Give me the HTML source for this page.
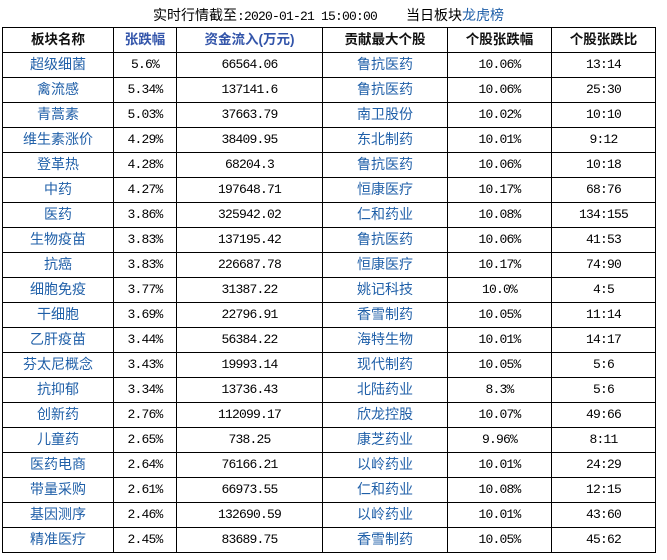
<!DOCTYPE html>
<html>
<head>
<meta charset="utf-8">
<style>
  html,body{margin:0;padding:0;background:#fff;}
  body{width:667px;height:560px;position:relative;overflow:hidden;font-family:"Liberation Sans","Noto Sans CJK SC",sans-serif;}
  .h{position:absolute;left:2px;width:654px;height:1px;background:#000;}
  .v{position:absolute;top:27px;width:1px;height:526px;background:#000;}
  .r{position:absolute;left:0;width:667px;height:25px;}
  .c{position:absolute;top:0;height:25px;line-height:25px;text-align:center;white-space:nowrap;}
  .c1{left:3px;width:110px;}
  .c2{left:114px;width:62px;}
  .c3{left:177px;width:145px;}
  .c4{left:323px;width:124px;}
  .c5{left:448px;width:103px;}
  .c6{left:552px;width:103px;}
  .cn{font-family:"Liberation Sans","Noto Sans CJK SC",sans-serif;font-size:14px;color:#1f5fa8;}
  .num{font-family:"Liberation Mono","DejaVu Sans Mono",monospace;font-size:13px;letter-spacing:-0.8px;color:#000;}
  .hd{font-family:"Liberation Sans","Noto Sans CJK SC",sans-serif;font-size:13.5px;font-weight:bold;color:#111;}
  .hb{color:#3355aa;}
  .title{position:absolute;top:6px;height:18px;line-height:18px;font-size:14px;color:#000;white-space:nowrap;}
  .mono{font-family:"Liberation Mono","DejaVu Sans Mono",monospace;font-size:13px;letter-spacing:-0.8px;}
</style>
</head>
<body>
<div class="title" style="left:153px;">实时行情截至<span class="mono">:2020-01-21 15:00:00</span></div>
<div class="title" style="left:406px;">当日板块<span style="color:#1f5fa8;">龙虎榜</span></div>

<div class="h" style="top:27px"></div>
<div class="h" style="top:52px"></div>
<div class="h" style="top:77px"></div>
<div class="h" style="top:102px"></div>
<div class="h" style="top:127px"></div>
<div class="h" style="top:152px"></div>
<div class="h" style="top:177px"></div>
<div class="h" style="top:202px"></div>
<div class="h" style="top:227px"></div>
<div class="h" style="top:252px"></div>
<div class="h" style="top:277px"></div>
<div class="h" style="top:302px"></div>
<div class="h" style="top:327px"></div>
<div class="h" style="top:352px"></div>
<div class="h" style="top:377px"></div>
<div class="h" style="top:402px"></div>
<div class="h" style="top:427px"></div>
<div class="h" style="top:452px"></div>
<div class="h" style="top:477px"></div>
<div class="h" style="top:502px"></div>
<div class="h" style="top:527px"></div>
<div class="h" style="top:552px"></div>
<div class="v" style="left:2px"></div>
<div class="v" style="left:113px"></div>
<div class="v" style="left:176px"></div>
<div class="v" style="left:322px"></div>
<div class="v" style="left:447px"></div>
<div class="v" style="left:551px"></div>
<div class="v" style="left:655px"></div>

<div class="r" style="top:27px">
  <div class="c c1 hd">板块名称</div>
  <div class="c c2 hd hb">张跌幅</div>
  <div class="c c3 hd hb">资金流入(万元)</div>
  <div class="c c4 hd">贡献最大个股</div>
  <div class="c c5 hd">个股张跌幅</div>
  <div class="c c6 hd">个股张跌比</div>
</div>

<div class="r" style="top:52px"><div class="c c1 cn">超级细菌</div><div class="c c2 num">5.6%</div><div class="c c3 num">66564.06</div><div class="c c4 cn">鲁抗医药</div><div class="c c5 num">10.06%</div><div class="c c6 num">13:14</div></div>
<div class="r" style="top:77px"><div class="c c1 cn">禽流感</div><div class="c c2 num">5.34%</div><div class="c c3 num">137141.6</div><div class="c c4 cn">鲁抗医药</div><div class="c c5 num">10.06%</div><div class="c c6 num">25:30</div></div>
<div class="r" style="top:102px"><div class="c c1 cn">青蒿素</div><div class="c c2 num">5.03%</div><div class="c c3 num">37663.79</div><div class="c c4 cn">南卫股份</div><div class="c c5 num">10.02%</div><div class="c c6 num">10:10</div></div>
<div class="r" style="top:127px"><div class="c c1 cn">维生素涨价</div><div class="c c2 num">4.29%</div><div class="c c3 num">38409.95</div><div class="c c4 cn">东北制药</div><div class="c c5 num">10.01%</div><div class="c c6 num">9:12</div></div>
<div class="r" style="top:152px"><div class="c c1 cn">登革热</div><div class="c c2 num">4.28%</div><div class="c c3 num">68204.3</div><div class="c c4 cn">鲁抗医药</div><div class="c c5 num">10.06%</div><div class="c c6 num">10:18</div></div>
<div class="r" style="top:177px"><div class="c c1 cn">中药</div><div class="c c2 num">4.27%</div><div class="c c3 num">197648.71</div><div class="c c4 cn">恒康医疗</div><div class="c c5 num">10.17%</div><div class="c c6 num">68:76</div></div>
<div class="r" style="top:202px"><div class="c c1 cn">医药</div><div class="c c2 num">3.86%</div><div class="c c3 num">325942.02</div><div class="c c4 cn">仁和药业</div><div class="c c5 num">10.08%</div><div class="c c6 num">134:155</div></div>
<div class="r" style="top:227px"><div class="c c1 cn">生物疫苗</div><div class="c c2 num">3.83%</div><div class="c c3 num">137195.42</div><div class="c c4 cn">鲁抗医药</div><div class="c c5 num">10.06%</div><div class="c c6 num">41:53</div></div>
<div class="r" style="top:252px"><div class="c c1 cn">抗癌</div><div class="c c2 num">3.83%</div><div class="c c3 num">226687.78</div><div class="c c4 cn">恒康医疗</div><div class="c c5 num">10.17%</div><div class="c c6 num">74:90</div></div>
<div class="r" style="top:277px"><div class="c c1 cn">细胞免疫</div><div class="c c2 num">3.77%</div><div class="c c3 num">31387.22</div><div class="c c4 cn">姚记科技</div><div class="c c5 num">10.0%</div><div class="c c6 num">4:5</div></div>
<div class="r" style="top:302px"><div class="c c1 cn">干细胞</div><div class="c c2 num">3.69%</div><div class="c c3 num">22796.91</div><div class="c c4 cn">香雪制药</div><div class="c c5 num">10.05%</div><div class="c c6 num">11:14</div></div>
<div class="r" style="top:327px"><div class="c c1 cn">乙肝疫苗</div><div class="c c2 num">3.44%</div><div class="c c3 num">56384.22</div><div class="c c4 cn">海特生物</div><div class="c c5 num">10.01%</div><div class="c c6 num">14:17</div></div>
<div class="r" style="top:352px"><div class="c c1 cn">芬太尼概念</div><div class="c c2 num">3.43%</div><div class="c c3 num">19993.14</div><div class="c c4 cn">现代制药</div><div class="c c5 num">10.05%</div><div class="c c6 num">5:6</div></div>
<div class="r" style="top:377px"><div class="c c1 cn">抗抑郁</div><div class="c c2 num">3.34%</div><div class="c c3 num">13736.43</div><div class="c c4 cn">北陆药业</div><div class="c c5 num">8.3%</div><div class="c c6 num">5:6</div></div>
<div class="r" style="top:402px"><div class="c c1 cn">创新药</div><div class="c c2 num">2.76%</div><div class="c c3 num">112099.17</div><div class="c c4 cn">欣龙控股</div><div class="c c5 num">10.07%</div><div class="c c6 num">49:66</div></div>
<div class="r" style="top:427px"><div class="c c1 cn">儿童药</div><div class="c c2 num">2.65%</div><div class="c c3 num">738.25</div><div class="c c4 cn">康芝药业</div><div class="c c5 num">9.96%</div><div class="c c6 num">8:11</div></div>
<div class="r" style="top:452px"><div class="c c1 cn">医药电商</div><div class="c c2 num">2.64%</div><div class="c c3 num">76166.21</div><div class="c c4 cn">以岭药业</div><div class="c c5 num">10.01%</div><div class="c c6 num">24:29</div></div>
<div class="r" style="top:477px"><div class="c c1 cn">带量采购</div><div class="c c2 num">2.61%</div><div class="c c3 num">66973.55</div><div class="c c4 cn">仁和药业</div><div class="c c5 num">10.08%</div><div class="c c6 num">12:15</div></div>
<div class="r" style="top:502px"><div class="c c1 cn">基因测序</div><div class="c c2 num">2.46%</div><div class="c c3 num">132690.59</div><div class="c c4 cn">以岭药业</div><div class="c c5 num">10.01%</div><div class="c c6 num">43:60</div></div>
<div class="r" style="top:527px"><div class="c c1 cn">精准医疗</div><div class="c c2 num">2.45%</div><div class="c c3 num">83689.75</div><div class="c c4 cn">香雪制药</div><div class="c c5 num">10.05%</div><div class="c c6 num">45:62</div></div>
</body>
</html>
